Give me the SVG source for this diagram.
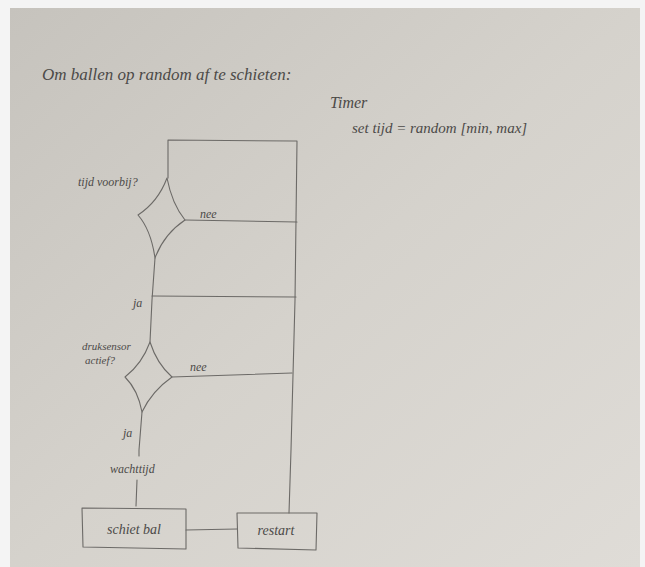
<svg xmlns="http://www.w3.org/2000/svg" width="645" height="567" viewBox="0 0 645 567">
<defs>
<linearGradient id="paper" x1="0" y1="0" x2="1" y2="1">
<stop offset="0" stop-color="#c6c3bd"/>
<stop offset="0.5" stop-color="#d5d2cc"/>
<stop offset="1" stop-color="#dfdcd7"/>
</linearGradient>
<style>
.ln{fill:none;stroke:#6c6a67;stroke-width:1.1;stroke-linecap:round;stroke-linejoin:round}
.t{font-family:"Liberation Serif","DejaVu Serif",serif;font-style:italic;fill:#4c4a48}
</style>
</defs>
<rect x="0" y="0" width="645" height="567" fill="#f4f4f4"/>
<rect x="10" y="8" width="630" height="559" fill="url(#paper)"/>

<g id="title"><text class="t" x="42" y="80" font-size="17">Om ballen op random af te schieten:</text></g>
<g id="timer">
<text class="t" x="330" y="108" font-size="16">Timer</text>
<text class="t" x="352" y="133" font-size="15">set tijd = random [min, max]</text>
</g>

<g id="connectors">
<path class="ln" d="M168,178 L168,140 L293,141 L297,141 L295,300 L291,450 L289,513"/>
<path class="ln" d="M185,220 L297,222"/>
<path class="ln" d="M155,258 L152,300 L150,342"/>
<path class="ln" d="M152,296 L296,297"/>
<path class="ln" d="M172,377 L292,373"/>
<path class="ln" d="M142,412 L139,450 L139,456"/>
<path class="ln" d="M137,480 L136,506"/>
<path class="ln" d="M186,530 L237,529"/>
</g>

<g id="dec1">
<path class="ln" d="M167,178 Q172,204 185,220 Q164,234 155,258 Q151,230 138,215 Q158,202 167,178 Z"/>
<text class="t" x="78" y="186" font-size="12">tijd voorbij?</text>
<text class="t" x="200" y="218" font-size="12">nee</text>
<text class="t" x="133" y="307" font-size="12">ja</text>
</g>

<g id="dec2">
<path class="ln" d="M150,342 Q157,364 172,377 Q152,391 142,412 Q138,390 125,377 Q142,364 150,342 Z"/>
<text class="t" x="82" y="350" font-size="11">druksensor</text>
<text class="t" x="85" y="364" font-size="11">actief?</text>
<text class="t" x="190" y="371" font-size="12">nee</text>
<text class="t" x="123" y="437" font-size="12">ja</text>
</g>

<g id="wacht"><text class="t" x="110" y="473" font-size="12">wachttijd</text></g>

<g id="schiet">
<path class="ln" d="M82,508 L186,509 L186,549 L83,547 Z"/>
<text class="t" x="134" y="534" font-size="14" text-anchor="middle">schiet bal</text>
</g>

<g id="restart">
<path class="ln" d="M237,513 L317,513 L316,550 L238,548 Z"/>
<text class="t" x="276" y="535" font-size="14" text-anchor="middle">restart</text>
</g>
</svg>
